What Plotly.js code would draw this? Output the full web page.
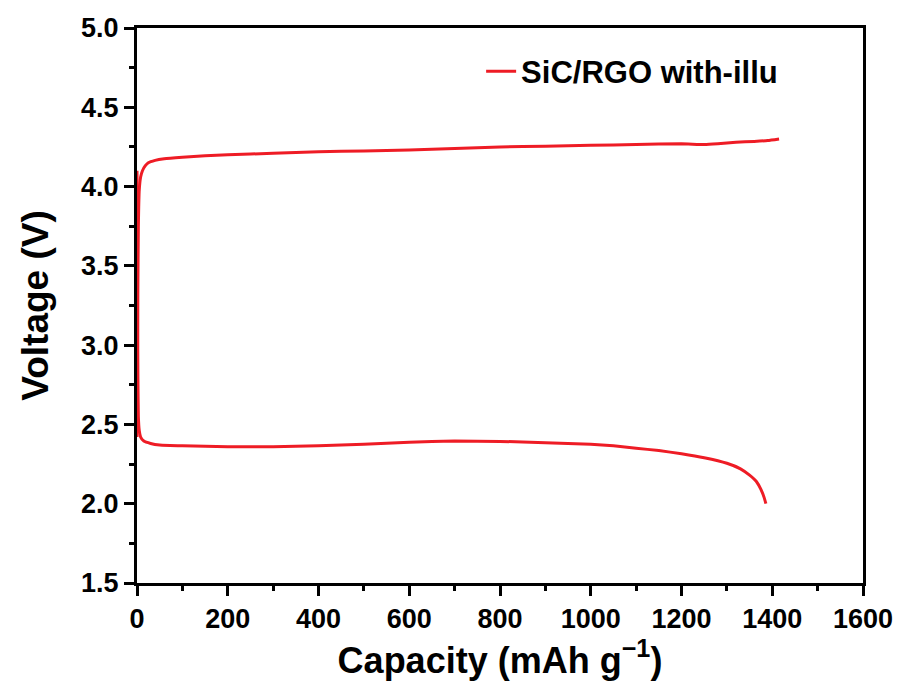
<!DOCTYPE html>
<html>
<head>
<meta charset="utf-8">
<script src="https://cdn.plot.ly/plotly-3.0.1.min.js"></script>
<style>html,body{margin:0;padding:0;background:#fff;}#chart{width:903px;height:681px;}</style>
</head>
<body>
<div id="chart"></div>
<script>
// Charge branch (upper curve)
const chargeCap = [0, 1, 2, 3, 5, 8, 12, 18, 25, 40, 60, 100, 150, 200, 300, 400, 500, 600, 700, 800, 900, 1000, 1100, 1200, 1250, 1280, 1320, 1360, 1390, 1415];
const chargeV   = [2.42, 2.9, 3.4, 3.75, 3.98, 4.06, 4.1, 4.13, 4.15, 4.165, 4.175, 4.185, 4.195, 4.2, 4.21, 4.22, 4.225, 4.23, 4.24, 4.25, 4.255, 4.26, 4.265, 4.27, 4.265, 4.27, 4.28, 4.285, 4.29, 4.3];
// Discharge branch (lower curve)
const dischargeCap = [0, 1, 2, 3, 5, 8, 15, 30, 50, 100, 200, 300, 400, 500, 600, 700, 800, 900, 1000, 1050, 1100, 1150, 1200, 1250, 1300, 1330, 1350, 1365, 1375, 1382, 1386];
const dischargeV   = [4.1, 3.4, 2.8, 2.55, 2.46, 2.42, 2.395, 2.38, 2.37, 2.365, 2.36, 2.36, 2.365, 2.375, 2.388, 2.395, 2.393, 2.385, 2.375, 2.365, 2.35, 2.335, 2.315, 2.29, 2.255, 2.22, 2.18, 2.14, 2.09, 2.04, 2.0];
const seriesName = "SiC/RGO with-illu";
const xTickVals = [0, 200, 400, 600, 800, 1000, 1200, 1400, 1600];
const yTickVals = [1.5, 2.0, 2.5, 3.0, 3.5, 4.0, 4.5, 5.0];
const yTickText = ["1.5", "2.0", "2.5", "3.0", "3.5", "4.0", "4.5", "5.0"];

const red = "#ee1c25";
const traces = [
  {x: chargeCap, y: chargeV, type: "scatter", mode: "lines", name: seriesName,
   line: {color: red, width: 3, shape: "spline", smoothing: 0.4}, showlegend: true},
  {x: dischargeCap, y: dischargeV, type: "scatter", mode: "lines", name: seriesName,
   line: {color: red, width: 3, shape: "spline", smoothing: 0.4}, showlegend: false}
];

const fam = "Liberation Sans, Arial, sans-serif";
const layout = {
  width: 903, height: 681,
  margin: {l: 137, r: 40, t: 28, b: 98},
  paper_bgcolor: "#fff", plot_bgcolor: "#fff",
  showlegend: true,
  legend: {x: 0.474, y: 0.97, xanchor: "left", yanchor: "top", bgcolor: "rgba(0,0,0,0)",
           font: {family: fam, size: 31, color: "#000", weight: "bold"}},
  xaxis: {
    range: [0, 1600], tickmode: "array", tickvals: xTickVals,
    ticks: "outside", ticklen: 10, tickwidth: 3, tickcolor: "#000",
    minor: {dtick: 100, ticks: "outside", ticklen: 5, tickwidth: 3, tickcolor: "#000"},
    showline: true, linewidth: 3, linecolor: "#000", mirror: true,
    showgrid: false, zeroline: false,
    tickfont: {family: fam, size: 27, color: "#000", weight: "bold"},
    title: {text: "Capacity (mAh g<sup>\u22121</sup>)", standoff: 8,
            font: {family: fam, size: 36, color: "#000", weight: "bold"}}
  },
  yaxis: {
    range: [1.5, 5.0], tickmode: "array", tickvals: yTickVals, ticktext: yTickText,
    ticks: "outside", ticklen: 10, tickwidth: 3, tickcolor: "#000",
    minor: {dtick: 0.25, ticks: "outside", ticklen: 5, tickwidth: 3, tickcolor: "#000"},
    showline: true, linewidth: 3, linecolor: "#000", mirror: true,
    showgrid: false, zeroline: false,
    tickfont: {family: fam, size: 27, color: "#000", weight: "bold"},
    title: {text: "Voltage (V)", standoff: 22,
            font: {family: fam, size: 37, color: "#000", weight: "bold"}}
  }
};
Plotly.newPlot("chart", traces, layout, {displayModeBar: false, staticPlot: true});
</script>
</body>
</html>
